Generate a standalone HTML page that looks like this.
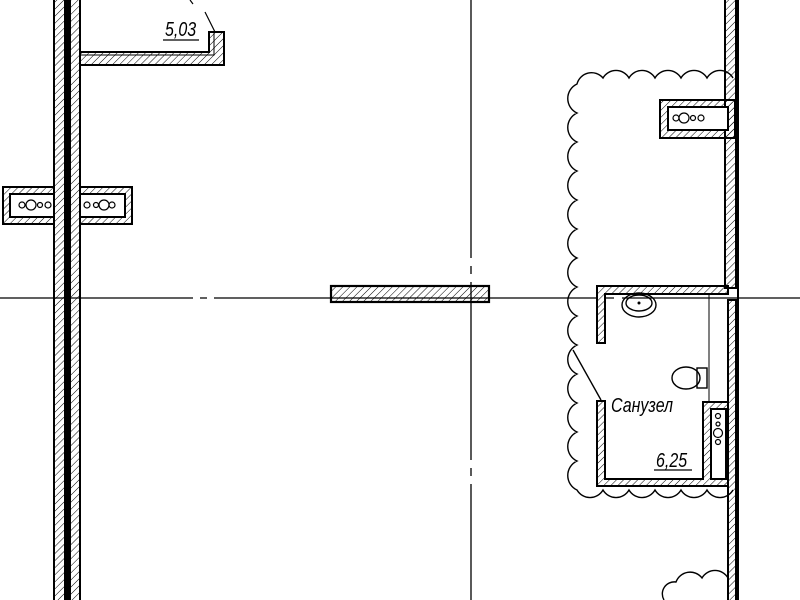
<!DOCTYPE html>
<html><head><meta charset="utf-8"><style>html,body{margin:0;padding:0;background:#fff}svg{display:block}</style></head>
<body>
<svg width="800" height="600" viewBox="0 0 800 600" xmlns="http://www.w3.org/2000/svg">
<defs>
<pattern id="h" width="5" height="5" patternUnits="userSpaceOnUse" patternTransform="rotate(45)">
<line x1="0" y1="0" x2="0" y2="5" stroke="#000" stroke-width="1"/>
</pattern>
</defs>
<g fill="none" stroke="#000" stroke-width="1.3">
<path d="M0 298H193M200 298H207M214 298H598M606 298H614M622 298H800"/>
<path d="M471 0V258M471 266V274M471 282V460M471 468V476M471 484V600"/>
</g>
<rect x="54" y="-2" width="11" height="604" fill="url(#h)" stroke="#000" stroke-width="2"/>
<rect x="65" y="-2" width="5" height="604" fill="#000"/>
<rect x="70" y="-2" width="10" height="604" fill="url(#h)" stroke="#000" stroke-width="2"/>
<path d="M80 52H209V32H224V65H80Z" fill="url(#h)" stroke="#000" stroke-width="2"/>
<path d="M80 55H214V32" fill="none" stroke="#000" stroke-width="1"/>
<line x1="215" y1="32" x2="205" y2="12" stroke="#000" stroke-width="1.2"/>
<line x1="190" y1="0" x2="193" y2="4" stroke="#000" stroke-width="1.2"/>
<text transform="translate(165,36) scale(0.8,1)" font-family="Liberation Sans, sans-serif" font-style="italic" font-size="20">5,03</text>
<line x1="163" y1="40" x2="199" y2="40" stroke="#000" stroke-width="1.2"/>
<rect x="3" y="187" width="51" height="37" fill="url(#h)" stroke="#000" stroke-width="2"/>
<rect x="80" y="187" width="52" height="37" fill="url(#h)" stroke="#000" stroke-width="2"/>
<rect x="10" y="194" width="44" height="23" fill="#fff" stroke="#000" stroke-width="2"/>
<rect x="80" y="194" width="45" height="23" fill="#fff" stroke="#000" stroke-width="2"/>
<g fill="none" stroke="#000" stroke-width="1.2">
<circle cx="22" cy="205" r="3"/><circle cx="31" cy="205" r="5"/><circle cx="40" cy="205" r="2.5"/><circle cx="48" cy="205" r="3"/>
<circle cx="87" cy="205" r="3"/><circle cx="96" cy="205" r="2.5"/><circle cx="104" cy="205" r="5"/><circle cx="112" cy="205" r="3"/>
</g>
<rect x="331" y="286" width="158" height="16" fill="url(#h)" stroke="#000" stroke-width="2.2"/>
<rect x="725" y="-2" width="11" height="290" fill="url(#h)" stroke="#000" stroke-width="2"/>
<rect x="728" y="300" width="8" height="302" fill="url(#h)" stroke="#000" stroke-width="2"/>
<line x1="738" y1="-2" x2="738" y2="602" stroke="#000" stroke-width="2"/>
<rect x="660" y="100" width="75" height="38" fill="url(#h)" stroke="#000" stroke-width="2"/>
<rect x="668" y="107" width="60" height="23" fill="#fff" stroke="#000" stroke-width="2"/>
<g fill="none" stroke="#000" stroke-width="1.2">
<circle cx="676" cy="118" r="3"/><circle cx="684" cy="118" r="5"/><circle cx="693" cy="118" r="2.5"/><circle cx="701" cy="118" r="3"/>
</g>
<path fill="none" stroke="#000" stroke-width="1.4" d="M733 490
a15 15 0 0 1 -26 0 a15 15 0 0 1 -26 0 a15 15 0 0 1 -26 0 a15 15 0 0 1 -26 0 a15 15 0 0 1 -26 0 a15 15 0 0 1 -26 0
a16 16 0 0 1 0 -29 a16 16 0 0 1 0 -29 a16 16 0 0 1 0 -29 a16 16 0 0 1 0 -29 a16 16 0 0 1 0 -29 a16 16 0 0 1 0 -29 a16 16 0 0 1 0 -29
a16 16 0 0 1 0 -29 a16 16 0 0 1 0 -29 a16 16 0 0 1 0 -29 a16 16 0 0 1 0 -29 a16 16 0 0 1 0 -29 a16 16 0 0 1 0 -29 a16 16 0 0 1 0 -29
a15 15 0 0 1 26 -6 a15 15 0 0 1 26 0 a15 15 0 0 1 26 0 a15 15 0 0 1 26 0 a15 15 0 0 1 26 0 a15 15 0 0 1 26 0"/>
<path fill="none" stroke="#000" stroke-width="1.4" d="M664 600 a12 12 0 0 1 12 -18 a15 15 0 0 1 26 -4 a15 15 0 0 1 26 0"/>
<path d="M597 286H728V294H605V343H597Z" fill="url(#h)" stroke="#000" stroke-width="2"/>
<path d="M597 401H605V479H703V402H728V486H597Z" fill="url(#h)" stroke="#000" stroke-width="2"/>
<rect x="711" y="409" width="15" height="70" fill="#fff" stroke="#000" stroke-width="2"/>
<line x1="709" y1="294" x2="709" y2="402" stroke="#000" stroke-width="1"/>
<g fill="none" stroke="#000" stroke-width="1.2">
<circle cx="718" cy="416" r="2.5"/><circle cx="718" cy="424" r="2"/><circle cx="718" cy="433" r="4.5"/><circle cx="718" cy="442" r="2.5"/>
</g>
<g fill="none" stroke="#000" stroke-width="1.4">
<ellipse cx="639" cy="305" rx="17" ry="12"/>
<ellipse cx="639" cy="303" rx="13" ry="8"/>
<ellipse cx="686" cy="378" rx="14" ry="11"/>
<rect x="697" y="368" width="10" height="20"/>
<line x1="573" y1="350" x2="601" y2="400"/>
</g>
<circle cx="639" cy="303" r="1.5" fill="#000"/>
<text transform="translate(611,412) scale(0.8,1)" font-family="Liberation Sans, sans-serif" font-style="italic" font-size="20">Санузел</text>
<text transform="translate(656,467) scale(0.8,1)" font-family="Liberation Sans, sans-serif" font-style="italic" font-size="20">6,25</text>
<line x1="654" y1="470" x2="692" y2="470" stroke="#000" stroke-width="1.2"/>
</svg>
</body></html>
